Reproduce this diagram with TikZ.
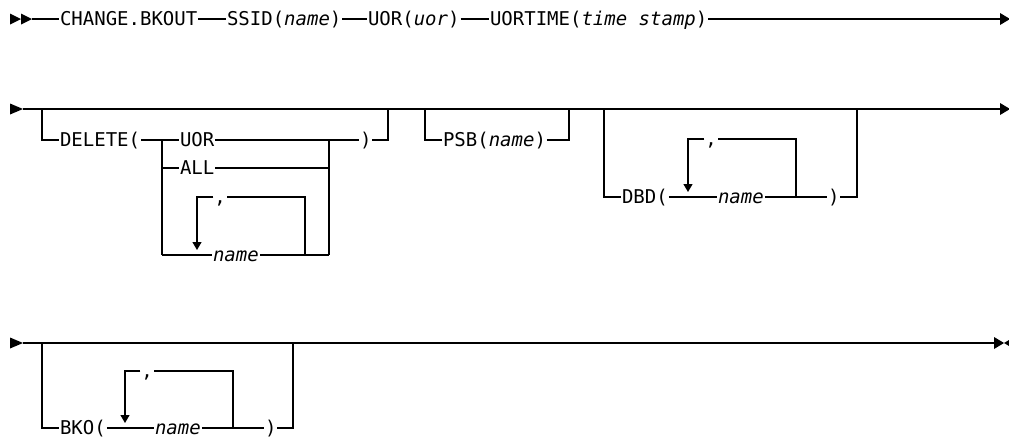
\documentclass[tikz,border=0pt]{standalone}
\usepackage{fontspec}
\setmonofont{DejaVu Sans Mono}
\usetikzlibrary{arrows.meta}
\begin{document}
\begin{tikzpicture}[x=1pt,y=-1pt,line width=1.2pt,
  kw/.style={anchor=west,inner xsep=1pt,inner ysep=0pt,outer sep=0pt,
    text height=13.9pt,text depth=0pt,font=\ttfamily\fontsize{19}{22}\selectfont},
  sep/.style={kw,anchor=center},
  loopdown/.style={-{Triangle[length=8pt,width=9pt]}}]
\useasboundingbox (0,0) rectangle (1009,439);

% ---------- line 1 ----------
\fill (10,13.5) -- (21,19) -- (10,24.5) -- cycle;
\fill (21,13.5) -- (32,19) -- (21,24.5) -- cycle;
\coordinate (m1) at (32,19);
\node[kw] (chg) at (59,19) {CHANGE.BKOUT};
\node[kw] (ssid) at (226,19) {SSID(\textit{name})};
\node[kw] (uor) at (367,19) {UOR(\textit{uor})};
\node[kw] (uort) at (489,19) {UORTIME(\textit{time stamp})};
\coordinate (e1) at (1001,19);
\draw (m1) -- (chg) -- (ssid) -- (uor) -- (uort) -- (e1);
\fill (1000,13) -- (1010,19) -- (1000,25) -- cycle;

% ---------- line 2 ----------
\fill (10,103.5) -- (23,109) -- (10,114.5) -- cycle;
\coordinate (a2) at (23,109);
\coordinate (e2) at (1001,109);
\draw (a2) -- (e2);
\fill (1000,103) -- (1010,109) -- (1000,115) -- cycle;

% DELETE group
\coordinate (d0) at (42,109);
\coordinate (d1) at (42,140);
\node[kw] (del) at (59,140) {DELETE(};
\coordinate (c0) at (162,140);
\node[kw] (uorr) at (179,140) {UOR};
\node[kw] (rp1) at (359,140) {)};
\coordinate (d2) at (388,140);
\coordinate (d3) at (388,109);
\draw (d0) -- (d1) -- (del) -- (uorr) -- (rp1) -- (d2) -- (d3);
\coordinate (cn) at (162,255);
\coordinate (cr0) at (329,140);
\coordinate (cr) at (329,255);
\draw (c0) -- (cn);
\draw (cr) -- (cr0);
\coordinate (ca) at (162,168);
\coordinate (cb) at (329,168);
\node[kw] (all) at (179,168) {ALL};
\draw (ca) -- (all) -- (cb);
\node[kw] (nm1) at (212,255) {\textit{name}};
\draw (cn) -- (nm1) -- (cr);
\coordinate (l1a) at (305,255);
\coordinate (l1b) at (305,197);
\node[sep] (cm1) at (220,197) {,};
\coordinate (l1c) at (197,197);
\coordinate (l1d) at (197,250);
\draw (l1a) -- (l1b) -- (cm1);
\draw[loopdown] (cm1) -- (l1c) -- (l1d);

% PSB group
\coordinate (p0) at (425,109);
\coordinate (p1) at (425,140);
\node[kw] (psb) at (442,140) {PSB(\textit{name})};
\coordinate (p2) at (569,140);
\coordinate (p3) at (569,109);
\draw (p0) -- (p1) -- (psb) -- (p2) -- (p3);

% DBD group
\coordinate (b0) at (604,109);
\coordinate (b1) at (604,197);
\node[kw] (dbd) at (621,197) {DBD(};
\node[kw] (nm2) at (717,197) {\textit{name}};
\node[kw] (rp2) at (827,197) {)};
\coordinate (b2) at (857,197);
\coordinate (b3) at (857,109);
\draw (b0) -- (b1) -- (dbd) -- (nm2) -- (rp2) -- (b2) -- (b3);
\coordinate (l2a) at (796,197);
\coordinate (l2b) at (796,139);
\node[sep] (cm2) at (711,139) {,};
\coordinate (l2c) at (688,139);
\coordinate (l2d) at (688,192);
\draw (l2a) -- (l2b) -- (cm2);
\draw[loopdown] (cm2) -- (l2c) -- (l2d);

% ---------- line 3 ----------
\fill (10,337.5) -- (23,343) -- (10,348.5) -- cycle;
\coordinate (a3) at (23,343);
\coordinate (e3) at (995,343);
\draw (a3) -- (e3);
\fill (994,337) -- (1004,343) -- (994,349) -- cycle;
\fill (1014,337) -- (1004,343) -- (1014,349) -- cycle;

% BKO group
\coordinate (k0) at (42,343);
\coordinate (k1) at (42,428);
\node[kw] (bko) at (59,428) {BKO(};
\node[kw] (nm3) at (154,428) {\textit{name}};
\node[kw] (rp3) at (264,428) {)};
\coordinate (k2) at (293,428);
\coordinate (k3) at (293,343);
\draw (k0) -- (k1) -- (bko) -- (nm3) -- (rp3) -- (k2) -- (k3);
\coordinate (l3a) at (233,428);
\coordinate (l3b) at (233,371);
\node[sep] (cm3) at (147,371) {,};
\coordinate (l3c) at (125,371);
\coordinate (l3d) at (125,423);
\draw (l3a) -- (l3b) -- (cm3);
\draw[loopdown] (cm3) -- (l3c) -- (l3d);
\end{tikzpicture}
\end{document}
